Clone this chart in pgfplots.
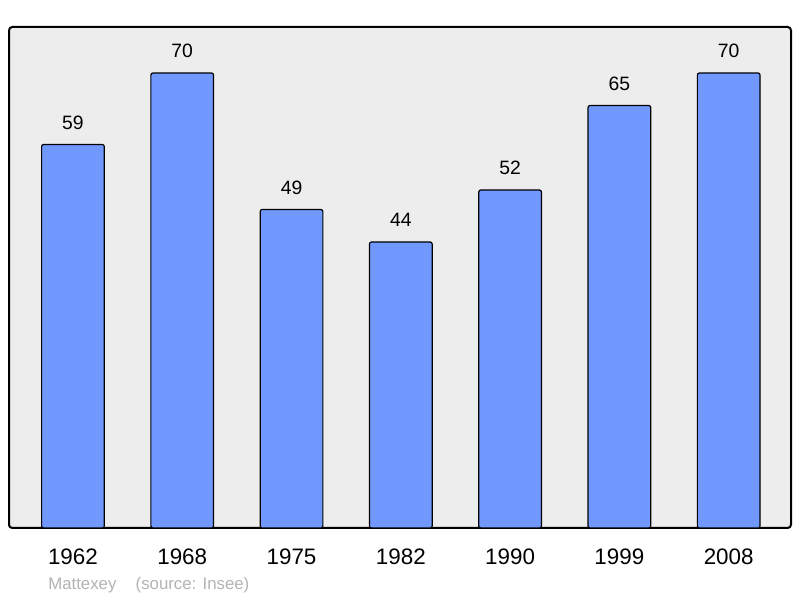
\documentclass[border=0pt]{standalone}
\usepackage{pgfplots}
\pgfplotsset{compat=1.18}
\usepackage{fontspec}
\setmainfont{Liberation Sans}
\definecolor{barblue}{HTML}{7098FF}
\definecolor{bggray}{HTML}{EDEDED}
\definecolor{srcgray}{HTML}{B3B3B3}
\begin{document}
\begin{tikzpicture}
% page frame: 800x598 px at 0.75pt per px
\useasboundingbox (-6.75pt,-52.5pt) rectangle (593.25pt,396pt);
\begin{axis}[
    at={(0,0)}, anchor=south west,
    scale only axis,
    width=586.5pt,
    height=375.75pt,
    xmin=-0.585, xmax=6.57,
    ymin=0, ymax=77.08,
    xtick=data,
    xticklabels={1962,1968,1975,1982,1990,1999,2008},
    ytick=\empty,
    major tick length=0pt,
    /pgf/number format/assume math mode=true,
    x tick label style={font=\fontsize{16.8}{18}\selectfont, yshift=-12.4pt},
    axis background/.style={fill=bggray},
    axis line style={line width=1.5pt, rounded corners=2.5pt},
    ybar,
    bar width=47pt,
    nodes near coords,
    every node near coord/.append style={font=\fontsize{14.5}{16}\selectfont, yshift=7.6pt},
    clip=false,
]
\addplot[fill=barblue, draw=black, line width=0.9pt, rounded corners=1.5pt]
  coordinates {(0,59) (1,70) (2,49) (3,44) (4,52) (5,65) (6,70)};
\end{axis}
\node[anchor=base west, text=srcgray, font=\fontsize{12.6}{14}\selectfont, inner sep=0pt]
  at (29.25pt,-46.5pt) {Mattexey\hspace{1.15em}(source: Insee)};
\end{tikzpicture}
\end{document}
